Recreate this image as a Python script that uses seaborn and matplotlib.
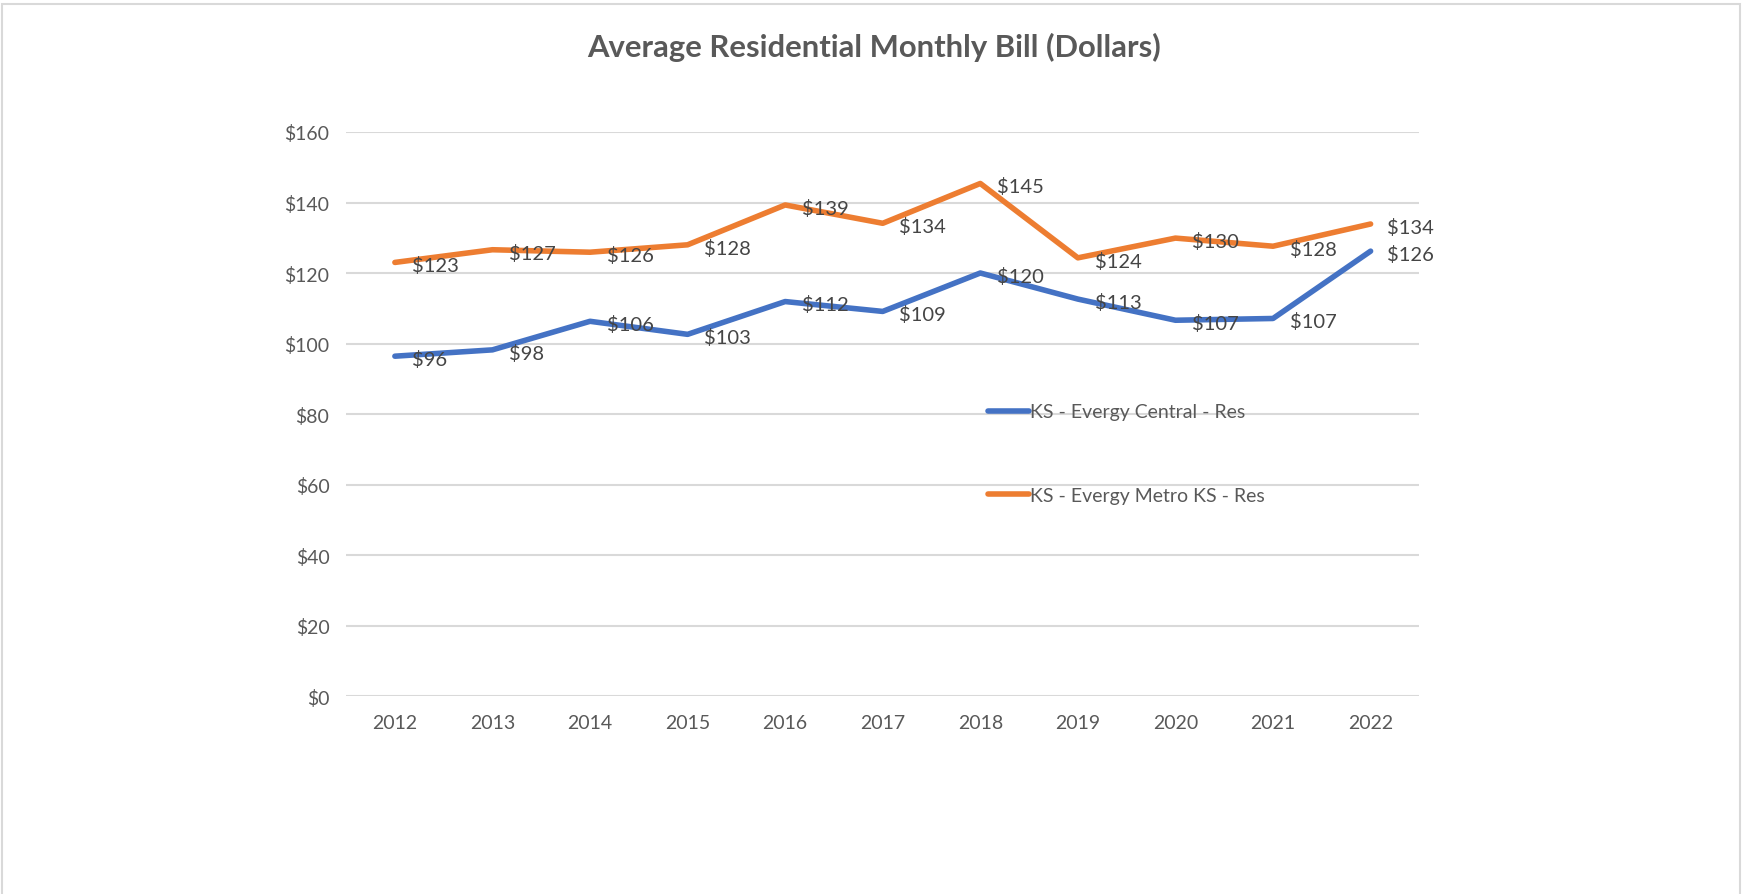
import numpy as np
import pandas as pd
import matplotlib
matplotlib.use("Agg")
import matplotlib.pyplot as plt
from matplotlib.patches import Rectangle
import seaborn as sns

# chart data
years = [2012, 2013, 2014, 2015, 2016, 2017, 2018, 2019, 2020, 2021, 2022]
central = [96.4, 98.2, 106.3, 102.6, 111.9, 109.1, 120.0, 112.6, 106.6, 107.1, 126.2]
metro = [123.0, 126.6, 125.9, 128.0, 139.3, 134.1, 145.4, 124.3, 129.9, 127.6, 133.9]
series_names = ["KS - Evergy Central - Res", "KS - Evergy Metro KS - Res"]
y_ticks = [0, 20, 40, 60, 80, 100, 120, 140, 160]
title = "Average Residential Monthly Bill (Dollars)"

df = pd.concat([
    pd.DataFrame({"year": years, "bill": central, "series": series_names[0]}),
    pd.DataFrame({"year": years, "bill": metro, "series": series_names[1]}),
])

sns.set_style("white")
plt.rcParams["font.family"] = ["Lato", "DejaVu Sans"]

text_grey = "#595959"
label_grey = "#454545"
palette = {series_names[0]: "#4472C4", series_names[1]: "#ED7D31"}

fig = plt.figure(figsize=(17.48, 8.95), dpi=100)
ax = fig.add_axes([0.198, 0.2212, 0.614, 0.6302])

sns.lineplot(data=df, x="year", y="bill", hue="series", palette=palette,
             linewidth=4.0, ax=ax, legend=True, solid_capstyle="round")

# data labels to the right of each point
for name, vals in zip(series_names, [central, metro]):
    for x, v in zip(years, vals):
        ax.annotate(f"${v:.0f}", (x, v), xytext=(12, -2), textcoords="offset points",
                    ha="left", va="center", fontsize=14.5, color=label_grey)

ax.set_xlim(years[0] - 0.5, years[-1] + 0.5)
ax.set_ylim(0, 160)
ax.set_yticks(y_ticks)
ax.set_yticklabels([f"${t}" for t in y_ticks])
ax.set_xticks(years)
ax.set_xticklabels([str(y) for y in years])
ax.tick_params(axis="both", length=0, labelsize=14, labelcolor=text_grey)
ax.tick_params(axis="x", pad=13)
ax.tick_params(axis="y", pad=12)
ax.set_xlabel("")
ax.set_ylabel("")
ax.yaxis.grid(True, color="#D9D9D9", linewidth=1.5)
ax.set_axisbelow(True)
for s in ax.spines.values():
    s.set_visible(False)

leg = ax.legend(loc="center left", bbox_to_anchor=(0.582, 0.43), frameon=False,
                fontsize=14, labelcolor=text_grey, handlelength=2.1,
                handletextpad=0.05, labelspacing=3.4)
for line in leg.get_lines():
    line.set_linewidth(4.0)

fig.text(0.5, 0.947, title, ha="center", va="center", fontsize=22.3,
         fontweight="bold", color=text_grey)

# light outer frame of the chart area
fig.patches.append(Rectangle((2 / 1748, -0.05), 1738 / 1748, 1.05 - 5 / 895,
                             transform=fig.transFigure, fill=False,
                             edgecolor="#D9D9D9", linewidth=1.5))

fig.savefig("out.png", dpi=100)
